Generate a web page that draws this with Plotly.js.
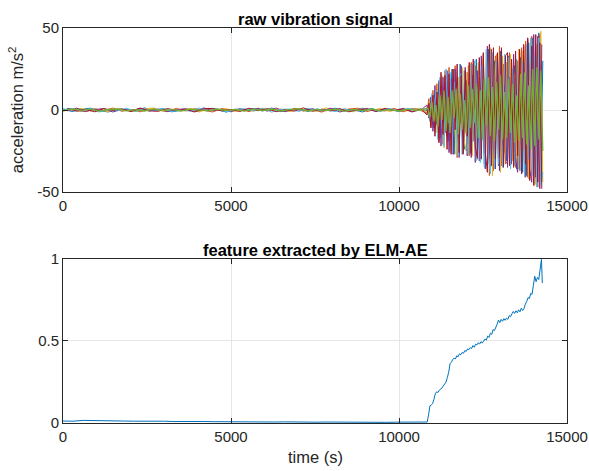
<!DOCTYPE html>
<html>
<head>
<meta charset="utf-8">
<script src="https://cdn.plot.ly/plotly-3.0.1.min.js"></script>
<style>html,body{margin:0;padding:0;background:#fff;}#chart{width:589px;height:471px;}</style>
</head>
<body>
<div id="chart"></div>
<script>
// ---------- data ----------
// sample times (s) for the two interleaved sampling grids of the raw channels
const timeA = [0,270,540,810,1080,1350,1620,1890,2160,2430,2700,2970,3240,3510,3780,4050,4320,4590,4860,5130,5400,5670,5940,6210,6480,6750,7020,7290,7560,7830,8100,8370,8640,8910,9180,9450,9720,9990,10260,10530,10800,
  10860,10920,10980,11040,11100,11160,11220,11280,11340,11400,11460,11520,11580,11640,11700,11760,11820,11880,11940,12000,12060,12120,12180,12240,12300,12360,12420,12480,12540,12600,12660,12720,12780,12840,12900,12960,13020,13080,13140,13200,13260,13320,13380,13440,13500,13560,13620,13680,13740,13800,13860,13920,13980,14040,14100,14160,14220,14280];
const timeB = [135,405,675,945,1215,1485,1755,2025,2295,2565,2835,3105,3375,3645,3915,4185,4455,4725,4995,5265,5535,5805,6075,6345,6615,6885,7155,7425,7695,7965,8235,8505,8775,9045,9315,9585,9855,10125,10395,10665,
  10830,10890,10950,11010,11070,11130,11190,11250,11310,11370,11430,11490,11550,11610,11670,11730,11790,11850,11910,11970,12030,12090,12150,12210,12270,12330,12390,12450,12510,12570,12630,12690,12750,12810,12870,12930,12990,13050,13110,13170,13230,13290,13350,13410,13470,13530,13590,13650,13710,13770,13830,13890,13950,14010,14070,14130,14190,14250];

// raw acceleration (m/s^2), quiet part then degradation part, per channel
const quiet1 = [0.6,-0.9,0.3,1.1,-0.4,-1.2,0.8,0.2,-0.7,1.3,-0.5,0.9,-1.1,-0.2,0.7,-0.8,1.0,0.4,-1.3,0.5,-0.3,0.9,-0.6,1.2,-1.0,0.1,0.8,-0.9,0.6,-0.4,1.1,-0.7,0.3,-1.2,0.9,-0.5,0.7,-1.0,0.4,0.8,-0.6];
const quiet2 = [0.9,-0.5,-1.0,0.7,-0.3,1.2,-0.8,0.4,-1.1,0.6,0.2,-0.9,1.0,-0.6,0.8,-0.4,-1.2,0.9,-0.2,0.7,-1.0,1.1,-0.5,0.3,-0.8,1.0,-0.7,0.5,-1.3,0.8,-0.4,0.6,1.1,-0.9,0.3,-0.6,1.0,-1.1,0.7,-0.5];
const quiet3 = [-0.8,0.5,1.0,-0.6,0.2,-1.1,0.9,-0.3,-0.9,0.7,1.2,-0.8,0.4,-0.5,1.0,-1.2,0.6,-0.2,0.8,-0.9,0.3,-0.7,1.1,-0.4,0.6,-1.0,0.9,0.2,-0.8,1.3,-0.6,0.4,-1.1,0.7,-0.3,1.0,-0.9,0.5,-0.4,0.9,-0.7];
const quiet4 = [-0.6,1.1,-0.8,0.3,0.9,-1.2,0.5,-0.4,1.0,-0.7,0.6,-1.0,0.2,0.8,-0.9,1.3,-0.5,0.4,-1.1,0.7,-0.3,0.9,-0.6,1.2,-1.0,0.5,-0.2,0.8,-0.7,1.1,-1.2,0.4,-0.5,0.9,-0.8,0.6,-0.3,1.0,-0.9,0.2];
const quiet5 = [0.4,1.0,-0.7,0.8,-1.2,0.3,-0.5,1.1,-0.9,0.6,-0.2,0.9,-1.0,0.5,-0.8,1.2,-0.4,0.7,-1.1,0.2,0.8,-0.6,1.0,-1.3,0.4,0.6,-0.9,1.1,-0.5,0.3,-1.0,0.8,-0.7,1.2,-0.3,-0.8,0.9,-0.6,1.0,-0.4,0.5];
const quiet6 = [1.0,-0.7,0.4,-1.1,0.8,-0.2,0.6,-1.0,1.2,-0.5,-0.8,0.9,-0.3,0.5,-1.2,0.7,1.0,-0.6,0.3,-0.9,1.1,-0.4,0.8,-1.0,0.2,-0.7,1.3,-0.8,0.5,-0.6,0.9,-1.1,0.4,0.7,-0.9,1.0,-0.4,0.6,-1.2,0.8];
const quiet7 = [-0.4,0.6,-0.2,0.5,-0.7,0.3,0.6,-0.5,0.2,-0.6,0.7,-0.3,0.4,-0.6,0.5,-0.2,-0.5,0.6,-0.4,0.3,-0.7,0.5,-0.3,0.6,-0.5,0.2,0.7,-0.6,0.4,-0.3,0.5,-0.7,0.3,-0.4,0.6,-0.5,0.2,-0.6,0.5,-0.3,0.4];

const active1 = [2,-6,4,-11,9,3,-17,14,-8,22,-19,6,25,-27,11,-20,28,-9,-24,18,5,-26,21,-14,31,-6,-29,25,-33,12,37,-18,-35,30,8,-34,36,-22,15,-31,33,-10,-30,27,-36,14,32,-38,20,-40,41,-12,44,-45,6,47,-43,30];
const active2 = [-2,7,-10,12,-5,16,-19,8,-21,24,-16,26,-22,4,27,-29,12,25,-26,-10,23,-28,29,-19,27,-30,20,-8,34,-33,36,-40,28,-37,33,-15,39,-34,28,-33,-31,35,-14,33,-35,30,-37,38,-24,42,-41,20,45,-44,38,-47,46,-42];
const active3 = [-3,5,-9,7,-14,16,-6,21,-23,10,18,-25,-12,24,-27,20,-8,26,-19,-25,27,9,-28,16,-30,29,-15,31,-22,36,-30,38,-40,12,34,-29,-38,33,-26,29,-12,34,-31,22,-33,37,-18,36,-39,28,-42,43,-25,-46,40,-20,48,-44];
const active4 = [3,-5,8,-13,15,-9,18,-22,20,-14,24,-26,19,-27,25,-11,-29,27,-22,26,-28,13,-29,28,-32,24,-31,33,-18,-36,39,-33,37,-22,-36,34,-37,29,-34,32,-35,20,-33,34,-29,-38,35,-32,39,-41,43,-36,-44,46,-41,45,-48,40];
const active5 = [1,-7,10,-4,12,-18,20,-11,-22,25,-8,23,-26,17,-5,-28,22,-27,24,-13,-27,28,-20,30,-31,14,-32,27,-35,37,-24,-39,35,-36,30,-33,22,-35,34,-10,32,-36,25,-34,31,-36,-37,29,-41,40,-30,44,-40,33,-47,44,-46,-38];
const active6 = [-3,4,-11,9,-16,11,-20,23,-15,21,-24,22,-27,25,-12,28,-26,21,-27,24,-16,29,-27,31,-22,-29,32,-30,35,-26,-38,40,-34,38,-30,35,-29,38,-35,33,35,-34,31,-35,36,-28,37,-39,40,-33,44,-43,39,-46,46,-44,41,-48];
const active7 = [1,-4,5,-7,3,-10,9,-6,12,-13,8,-14,12,-5,13,-15,10,-12,6,-14,15,-11,13,-8,16,-17,12,-18,19,-10,20,-16,14,-19,17,-12,21,-18,11,-17,19,-14,16,-20,9,-19,22,-17,23,-21,15,-24,25,-22,26,-18,24,-25];

// extracted feature (normalised)
const featTime = [0,300,600,900,1200,1500,1800,2100,2400,2700,3000,3300,3600,3900,4200,4500,4800,5100,5400,5700,6000,6300,6600,6900,7200,7500,7800,8100,8400,8700,9000,9300,9600,9900,10200,10500,10800,
  10840,10880,10920,10960,11000,11040,11080,11120,11160,11200,11240,11280,11320,11360,11400,11440,11480,11520,11560,11600,11640,11680,11720,11760,11800,11840,11880,11920,11960,12000,12040,12080,12120,12160,12200,12240,12280,12320,12360,12400,12440,12480,12520,12560,12600,12640,12680,12720,12760,12800,12840,12880,12920,12960,13000,13040,13080,13120,13160,13200,13240,13280,13320,13360,13400,13440,13480,13520,13560,13600,13640,13680,13720,13760,13800,13840,13880,13920,13960,14000,14040,14080,14120,14160,14200,14240,14265];
const featValue = [0.012,0.011,0.016,0.014,0.015,0.013,0.012,0.011,0.012,0.010,0.011,0.009,0.010,0.008,0.009,0.008,0.007,0.008,0.007,0.006,0.007,0.006,0.007,0.005,0.006,0.005,0.006,0.005,0.006,0.005,0.004,0.005,0.004,0.005,0.004,0.005,0.004,
  0.006,0.05,0.105,0.11,0.118,0.145,0.178,0.19,0.186,0.2,0.205,0.214,0.226,0.236,0.25,0.278,0.31,0.362,0.37,0.388,0.395,0.391,0.41,0.404,0.422,0.416,0.43,0.425,0.442,0.436,0.452,0.447,0.46,0.454,0.472,0.462,0.48,0.476,0.49,0.481,0.496,0.488,0.5,0.512,0.506,0.53,0.522,0.548,0.54,0.57,0.563,0.59,0.602,0.628,0.612,0.632,0.62,0.636,0.626,0.64,0.632,0.655,0.648,0.665,0.68,0.668,0.684,0.672,0.69,0.678,0.7,0.686,0.698,0.725,0.74,0.765,0.758,0.79,0.785,0.84,0.895,0.862,0.888,0.875,0.93,0.998,0.853];

const xTicks = [0,5000,10000,15000];
const xTickText = ['0','5000','10000','15000'];
const y1Ticks = [-50,0,50];
const y1TickText = ['-50','0','50'];
const y2Ticks = [0,0.5,1];
const y2TickText = ['0','0.5','1'];

// ---------- traces ----------
const channels = [
  {q:quiet1, a:active1, t:timeA, c:'#0072BD', w:1.0},
  {q:quiet2, a:active2, t:timeB, c:'#D95319', w:1.0},
  {q:quiet3, a:active3, t:timeA, c:'#EDB120', w:1.0},
  {q:quiet4, a:active4, t:timeB, c:'#7E2F8E', w:1.0},
  {q:quiet5, a:active5, t:timeA, c:'#4DBEEE', w:1.0},
  {q:quiet6, a:active6, t:timeB, c:'#A2142F', w:1.0},
  {q:quiet7, a:active7, t:timeA, c:'#77AC30', w:1.3}
];

const traces = channels.map(ch=>({
  x: ch.t, y: ch.q.concat(ch.a),
  xaxis:'x', yaxis:'y', type:'scatter', mode:'lines',
  line:{color:ch.c, width:ch.w}, hoverinfo:'skip'
}));
traces.push({
  x: featTime, y: featValue, xaxis:'x2', yaxis:'y2', type:'scatter', mode:'lines',
  line:{color:'#0072BD', width:1}, hoverinfo:'skip'
});

const axisCommon = {
  showgrid:true, gridcolor:'#e6e6e6', gridwidth:1, zeroline:false,
  showline:true, linecolor:'#262626', linewidth:1, mirror:'ticks',
  ticks:'inside', ticklen:5, tickcolor:'#262626', tickwidth:1,
  tickfont:{size:15, color:'#262626'}, fixedrange:true
};

const layout = {
  width:589, height:471, showlegend:false,
  margin:{l:63, r:22, t:28, b:48},
  paper_bgcolor:'#ffffff', plot_bgcolor:'#ffffff',
  font:{family:'"Liberation Sans", Arial, Helvetica, sans-serif', size:15, color:'#262626'},
  xaxis: Object.assign({}, axisCommon, {domain:[0,1], anchor:'y', range:[0,15000], tickmode:'array', tickvals:xTicks, ticktext:xTickText}),
  yaxis: Object.assign({}, axisCommon, {domain:[0.5848,1], anchor:'x', range:[-50,50], tickmode:'array', tickvals:y1Ticks, ticktext:y1TickText}),
  xaxis2: Object.assign({}, axisCommon, {domain:[0,1], anchor:'y2', range:[0,15000], tickmode:'array', tickvals:xTicks, ticktext:xTickText}),
  yaxis2: Object.assign({}, axisCommon, {domain:[0,0.4152], anchor:'x2', range:[0,1], tickmode:'array', tickvals:y2Ticks, ticktext:y2TickText}),
  annotations:[
    {text:'<b>raw vibration signal</b>', xref:'paper', yref:'paper', x:0.5, y:1.0228, xanchor:'center', yanchor:'middle', showarrow:false, font:{size:16.5, color:'#000000'}},
    {text:'<b>feature extracted by ELM-AE</b>', xref:'paper', yref:'paper', x:0.5, y:0.438, xanchor:'center', yanchor:'middle', showarrow:false, font:{size:16.5, color:'#000000'}},
    {text:'acceleration m/s<sup>2</sup>', xref:'paper', yref:'paper', x:-0.093, y:0.7924, xanchor:'center', yanchor:'middle', textangle:-90, showarrow:false, font:{size:16.5, color:'#262626'}},
    {text:'time (s)', xref:'paper', yref:'paper', x:0.5, y:-0.086, xanchor:'center', yanchor:'middle', showarrow:false, font:{size:16.5, color:'#262626'}}
  ]
};

Plotly.newPlot('chart', traces, layout, {staticPlot:true, displayModeBar:false});
</script>
</body>
</html>
